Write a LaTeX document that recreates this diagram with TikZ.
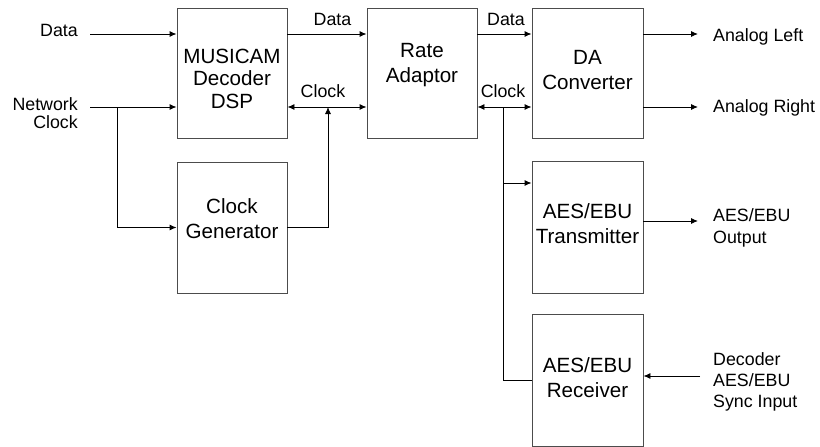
\documentclass[tikz,border=0pt]{standalone}
\usepackage{fontspec}
\setmainfont{Liberation Sans}
\usetikzlibrary{arrows.meta}
\begin{document}
\begin{tikzpicture}[x=1pt,y=-1pt,
  blk/.style={draw=black!70, line width=0.9pt, minimum width=110pt, minimum height=130pt, inner sep=0pt},
  btxt/.style={font=\fontsize{20.6}{25}\selectfont, align=center, inner sep=0pt, anchor=north},
  lbl/.style={font=\fontsize{17.8}{21}\selectfont, inner sep=0pt},
  ln/.style={line width=0.9pt},
  arr/.style={ln, -{Latex[length=7pt,width=6pt]}},
  barr/.style={ln, {Latex[length=7pt,width=6pt]}-{Latex[length=7pt,width=6pt]}}]
\useasboundingbox (0,0) rectangle (820,447);
% boxes
\node[blk] (mus) at (232,73) {};
\node[blk, minimum height=131pt] (cg) at (232,227.5) {};
\node[blk] (rate) at (422,73) {};
\node[blk, minimum width=111pt] (da) at (587.5,73) {};
\node[blk, minimum width=111pt, minimum height=132pt] (tx) at (587.5,227) {};
\node[blk, minimum width=111pt, minimum height=132pt] (rx) at (587.5,380) {};
% box texts
\node[btxt, font=\fontsize{20.6}{22.5}\selectfont] (mustxt) at (232,48.5) {MUSICAM\\Decoder\\DSP};
\node[btxt] (cgtxt) at (232,197.9) {Clock\\Generator};
\node[btxt] (ratetxt) at (422,43.5) {Rate\\Adaptor};
\node[btxt] (datxt) at (587.5,50.2) {DA\\Converter};
\node[btxt] (txtxt) at (587.5,203.5) {AES/EBU\\Transmitter};
\node[btxt] (rxtxt) at (587.5,356.9) {AES/EBU\\Receiver};
% labels
\node[lbl, anchor=base east] (ldata) at (78,36) {Data};
\node[lbl, anchor=north east, align=right, font=\fontsize{17.8}{18.5}\selectfont] (lnet) at (78,97.2) {Network\\Clock};
\node[lbl, anchor=base] (ld1) at (332.5,25) {Data};
\node[lbl, anchor=base] (ld2) at (506,25) {Data};
\node[lbl, anchor=base] (lc1) at (323,97) {Clock};
\node[lbl, anchor=base] (lc2) at (503,97) {Clock};
\node[lbl, anchor=base west] (lal) at (713,41) {Analog Left};
\node[lbl, anchor=base west] (lar) at (713,112) {Analog Right};
\node[lbl, anchor=north west, align=left, font=\fontsize{17.8}{22}\selectfont] (laes) at (713,208.3) {AES/EBU\\Output};
\node[lbl, anchor=north west, align=left, font=\fontsize{17.8}{21}\selectfont] (ldec) at (713,352.3) {Decoder\\AES/EBU\\Sync Input};
% coordinates
\coordinate (din) at (90,34);
\coordinate (nin) at (90,107);
\coordinate (nbr) at (117,107);
\coordinate (cgj) at (328,107);
\coordinate (rj) at (503,107);
\coordinate (txj) at (503,183);
\coordinate (rxj) at (503,380);
\coordinate (oal) at (698,34);
\coordinate (oar) at (698,107);
\coordinate (oaes) at (698,221);
\coordinate (idec) at (700,376);
% connectors
\draw[arr] (din) -- (din -| mus.west);
\draw[arr] (nin) -- (nin -| mus.west);
\draw[arr] (nbr) |- (cg.west);
\draw[arr] (mus.east |- din) -- (rate.west |- din);
\draw[barr] (mus.east |- nin) -- (rate.west |- nin);
\draw[arr] (cg.east) -| (cgj);
\draw[arr] (rate.east |- din) -- (da.west |- din);
\draw[barr] (rate.east |- rj) -- (da.west |- rj);
\draw[arr] (rj) |- (tx.west |- txj);
\draw[ln] (txj) -- (rxj) -- (rx.west |- rxj);
\draw[arr] (da.east |- oal) -- (oal);
\draw[arr] (da.east |- oar) -- (oar);
\draw[arr] (tx.east |- oaes) -- (oaes);
\draw[arr] (idec) -- (rx.east |- idec);
\end{tikzpicture}
\end{document}
